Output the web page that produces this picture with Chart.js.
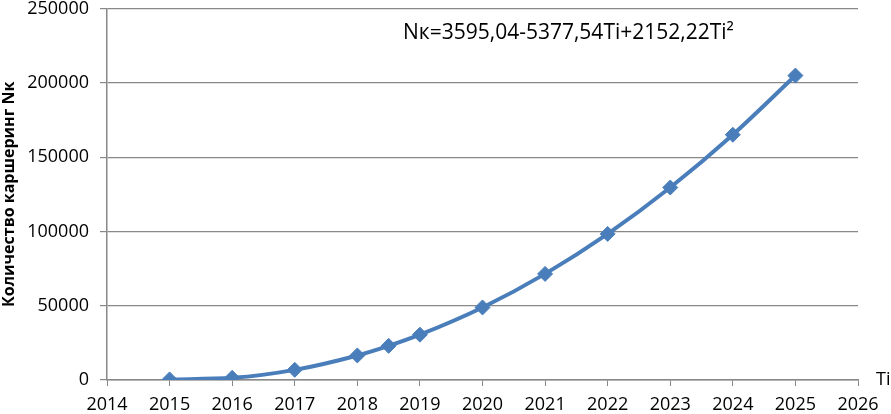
<!DOCTYPE html>
<html>
<head>
<meta charset="utf-8">
<script src="https://cdn.jsdelivr.net/npm/chart.js@4"></script>
<style>
  html, body { margin: 0; padding: 0; background: #fff; }
  #wrap { width: 891px; height: 414px; }
</style>
</head>
<body>
<div id="wrap"><canvas id="kshChart" width="891" height="414"></canvas></div>
<script>
const years = [2015, 2016, 2017, 2018, 2018.5, 2019, 2020, 2021, 2022, 2023, 2024, 2025];
const cars = [370, 1450, 6830, 16520, 22980, 30510, 48810, 71410, 98320, 129530, 165040, 204860];
const xTicks = [2014, 2015, 2016, 2017, 2018, 2019, 2020, 2021, 2022, 2023, 2024, 2025, 2026];
const yTicks = [0, 50000, 100000, 150000, 200000, 250000];
const yTitle = "Количество каршеринг Nк";
const formula = "Nк=3595,04-5377,54Ti+2152,22Ti²";
const xName = "Ti";

const fontFam = "'Open Sans', 'DejaVu Sans', sans-serif";
const lineBlue = "#4a7ebb";

// подписи: формула и "Ti"
const textPlugin = {
  id: "textPlugin",
  afterDraw(chart) {
    const ctx = chart.ctx;
    const area = chart.chartArea;
    ctx.save();
    ctx.fillStyle = "#000";
    ctx.textBaseline = "middle";
    ctx.font = "21px " + fontFam;
    ctx.textAlign = "left";
    ctx.fillText(formula, 403, 33);
    ctx.font = "18px " + fontFam;
    ctx.fillText(xName, area.right + 18, area.bottom);
    ctx.restore();
  }
};

new Chart(document.getElementById("kshChart"), {
  type: "line",
  data: {
    datasets: [{
      data: years.map((y, i) => ({ x: y, y: cars[i] })),
      borderColor: lineBlue,
      backgroundColor: lineBlue,
      borderWidth: 4,
      tension: 0.3,
      cubicInterpolationMode: "monotone",
      pointStyle: "rectRot",
      pointRadius: 7.5,
      pointBackgroundColor: lineBlue,
      pointBorderColor: lineBlue,
      pointBorderWidth: 1,
      fill: false
    }]
  },
  options: {
    responsive: false,
    animation: false,
    layout: { padding: { top: 7, right: 33, left: 0, bottom: 0 } },
    plugins: {
      legend: { display: false },
      tooltip: { enabled: false }
    },
    scales: {
      x: {
        type: "linear",
        min: 2014,
        max: 2026,
        afterBuildTicks: s => { s.ticks = xTicks.map(v => ({ value: v })); },
        afterFit: s => { s.height = 34; },
        grid: { drawOnChartArea: false, drawTicks: true, tickLength: 6, color: "#888" },
        border: { color: "#888", width: 1.5 },
        ticks: {
          color: "#000",
          font: { family: fontFam, size: 18 },
          padding: 8,
          maxRotation: 0,
          callback: v => String(v)
        }
      },
      y: {
        min: 0,
        max: 250000,
        afterBuildTicks: s => { s.ticks = yTicks.map(v => ({ value: v })); },
        afterFit: s => { s.width = 107; s.paddingTop = 0; s.paddingBottom = 0; },
        grid: { color: "#888", lineWidth: 1.2, tickLength: 7 },
        border: { color: "#888", width: 1.5 },
        title: {
          display: true,
          text: yTitle,
          color: "#000",
          font: { family: fontFam, size: 16, weight: "bold" },
          padding: { top: 0, bottom: 0 }
        },
        ticks: {
          color: "#000",
          font: { family: fontFam, size: 18 },
          padding: 11,
          callback: v => String(v)
        }
      }
    }
  },
  plugins: [textPlugin]
});
</script>
</body>
</html>
